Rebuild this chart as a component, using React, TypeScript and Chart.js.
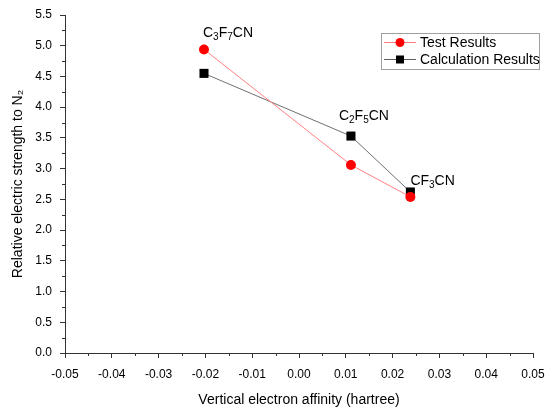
import React, { useEffect, useRef } from "react";
import { Chart, registerables } from "chart.js";

Chart.register(...registerables);

const compounds = ["C3F7CN", "C2F5CN", "CF3CN"];
const electronAffinity = [-0.0203, 0.0111, 0.0238];
const testResults = [4.94, 3.06, 2.54];
const calculationResults = [4.55, 3.53, 2.62];
const seriesNames = ["Test Results", "Calculation Results"];
const xTickMin = -0.05;
const xTickMax = 0.05;
const yTickMin = 0;
const yTickMax = 5.5;

const FONT = "'Liberation Sans', Arial, sans-serif";

// label pieces: [text, isSubscript]
const labelParts: [string, boolean][][] = [
  [["C", false], ["3", true], ["F", false], ["7", true], ["CN", false]],
  [["C", false], ["2", true], ["F", false], ["5", true], ["CN", false]],
  [["CF", false], ["3", true], ["CN", false]],
];
const labelOffsets = [
  [-1, -12],
  [-12, -16],
  [0, -7],
];

const overlayPlugin = {
  id: "overlay",
  afterDraw(chart: any) {
    const ctx = chart.ctx;
    const xs = chart.scales.x;
    const ys = chart.scales.y;
    const area = chart.chartArea;
    ctx.save();
    // minor ticks
    ctx.strokeStyle = "#333";
    ctx.lineWidth = 1;
    ctx.beginPath();
    for (let i = 0; i < 10; i++) {
      const v = xTickMin + 0.005 + i * 0.01;
      const px = Math.round(xs.getPixelForValue(v)) + 0.5;
      ctx.moveTo(px, area.bottom);
      ctx.lineTo(px, area.bottom + 3);
    }
    for (let i = 0; i < 11; i++) {
      const v = yTickMin + 0.25 + i * 0.5;
      const py = Math.round(ys.getPixelForValue(v)) + 0.5;
      ctx.moveTo(area.left, py);
      ctx.lineTo(area.left - 3, py);
    }
    ctx.stroke();

    // point labels
    ctx.fillStyle = "#000";
    ctx.textBaseline = "alphabetic";
    ctx.textAlign = "left";
    for (let i = 0; i < compounds.length; i++) {
      const px = xs.getPixelForValue(electronAffinity[i]);
      const py = ys.getPixelForValue(Math.max(testResults[i], calculationResults[i]));
      let x = px + labelOffsets[i][0];
      const y = py + labelOffsets[i][1];
      for (const [t, sub] of labelParts[i]) {
        ctx.font = sub ? `10px ${FONT}` : `14px ${FONT}`;
        ctx.fillText(t, x, sub ? y + 3 : y);
        x += ctx.measureText(t).width;
      }
    }

    // legend
    const lx = 381.5;
    const ly = 33.5;
    const lw = 158;
    const lh = 36;
    ctx.fillStyle = "#fff";
    ctx.fillRect(lx, ly, lw, lh);
    ctx.strokeStyle = "#a0a0a0";
    ctx.lineWidth = 1;
    ctx.strokeRect(lx, ly, lw, lh);
    const rows = [
      { name: seriesNames[0], line: "#ff8080", fill: "#ff0000", shape: "circle", y: 42 },
      { name: seriesNames[1], line: "#606060", fill: "#000000", shape: "rect", y: 59 },
    ];
    for (const r of rows) {
      ctx.strokeStyle = r.line;
      ctx.beginPath();
      ctx.moveTo(384, r.y + 0.5);
      ctx.lineTo(416, r.y + 0.5);
      ctx.stroke();
      ctx.fillStyle = r.fill;
      if (r.shape === "circle") {
        ctx.beginPath();
        ctx.arc(400, r.y + 0.5, 4.5, 0, Math.PI * 2);
        ctx.fill();
      } else {
        ctx.fillRect(396, r.y - 3.5, 8, 8);
      }
      ctx.fillStyle = "#000";
      ctx.font = `14px ${FONT}`;
      ctx.textBaseline = "middle";
      ctx.fillText(r.name, 420, r.y + 1);
    }
    ctx.restore();
  },
};

export default function App() {
  const ref = useRef<HTMLCanvasElement>(null);
  useEffect(() => {
    if (!ref.current) return;
    const chart = new Chart(ref.current, {
      type: "scatter",
      data: {
        datasets: [
          {
            label: seriesNames[0],
            data: electronAffinity.map((x, i) => ({ x, y: testResults[i] })),
            showLine: true,
            borderColor: "#ff8080",
            borderWidth: 1,
            backgroundColor: "#ff0000",
            pointBackgroundColor: "#ff0000",
            pointBorderWidth: 0,
            pointRadius: 5,
            pointStyle: "circle",
          },
          {
            label: seriesNames[1],
            data: electronAffinity.map((x, i) => ({ x, y: calculationResults[i] })),
            showLine: true,
            borderColor: "#707070",
            borderWidth: 1,
            backgroundColor: "#000",
            pointBackgroundColor: "#000",
            pointBorderWidth: 0,
            pointRadius: 6.4,
            pointStyle: "rect",
          },
        ],
      },
      options: {
        animation: false,
        responsive: false,
        layout: { padding: { top: 15, right: 14, left: 0, bottom: 0 } },
        plugins: { legend: { display: false }, tooltip: { enabled: false } },
        scales: {
          x: {
            type: "linear",
            min: xTickMin,
            max: xTickMax,
            afterFit(s: any) {
              s.height = 56;
              s.paddingLeft = 0;
              s.paddingRight = 0;
            },
            ticks: {
              stepSize: 0.01,
              color: "#000",
              font: { family: FONT, size: 12 },
              padding: 9,
              maxRotation: 0,
              callback: (v: any) => (Math.abs(v) < 1e-9 ? 0 : v).toFixed(2),
            },
            grid: { drawOnChartArea: false, drawTicks: true, tickLength: 5, color: "#333" },
            border: { display: true, color: "#333", width: 1 },
            title: {
              display: true,
              text: "Vertical electron affinity (hartree)",
              color: "#000",
              font: { family: FONT, size: 14 },
              padding: { top: 0, bottom: 0 },
            },
          },
          y: {
            type: "linear",
            min: yTickMin,
            max: yTickMax,
            afterFit(s: any) {
              s.width = 65;
              s.paddingTop = 0;
              s.paddingBottom = 0;
            },
            ticks: {
              stepSize: 0.5,
              color: "#000",
              font: { family: FONT, size: 12 },
              padding: 8,
              callback: (v: any) => Number(v).toFixed(1),
            },
            grid: { drawOnChartArea: false, drawTicks: true, tickLength: 5, color: "#333" },
            border: { display: true, color: "#333", width: 1 },
            title: {
              display: true,
              text: "Relative electric strength to N\u2082",
              color: "#000",
              font: { family: FONT, size: 14 },
              padding: { top: 10, bottom: 0 },
            },
          },
        },
      },
      plugins: [overlayPlugin],
    } as any);
    return () => chart.destroy();
  }, []);
  return (
    <div style={{ position: "fixed", left: 0, top: 0, width: 547, height: 409, background: "#fff" }}>
      <canvas ref={ref} width={547} height={409} />
    </div>
  );
}
